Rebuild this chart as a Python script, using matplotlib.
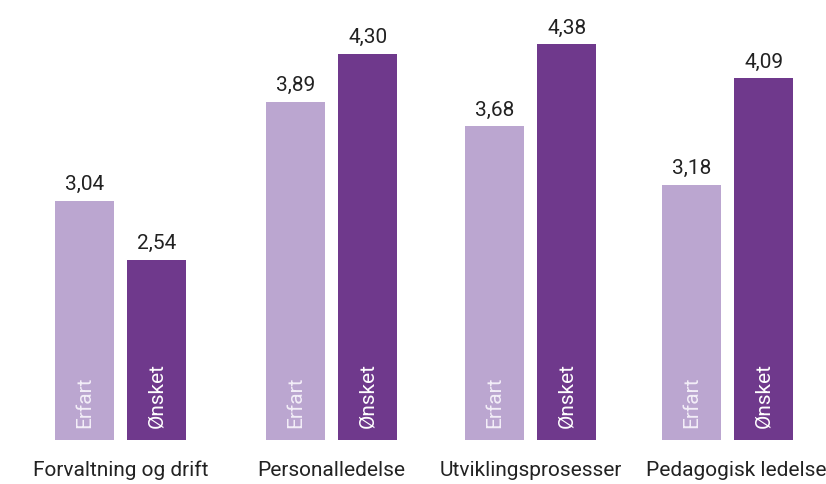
import numpy as np
import matplotlib.pyplot as plt
import matplotlib.transforms as mtransforms

categories = ['Forvaltning og drift', 'Personalledelse', 'Utviklingsprosesser', 'Pedagogisk ledelse']
erfart = [3.04, 3.89, 3.68, 3.18]
onsket = [2.54, 4.30, 4.38, 4.09]
series_names = ['Erfart', 'Ønsket']

light = '#bba6d0'
dark = '#6f398c'
text_col = '#222222'

plt.rcParams['font.family'] = ['Roboto', 'DejaVu Sans']

fig = plt.figure(figsize=(8.26, 4.84), dpi=100)
ax = fig.add_axes([0, 44 / 484, 1, 440 / 484])

# group centres are slightly uneven in the original layout
x = np.array([0.0, 1.045, 2.03, 3.005])
w = 0.292
off = 0.178
base = 1.0

b1 = ax.bar(x - off, np.array(erfart) - base, w, bottom=base, color=light)
b2 = ax.bar(x + off, np.array(onsket) - base, w, bottom=base, color=dark)

for bars, vals, name, tc in [(b1, erfart, series_names[0], '#f3eef8'), (b2, onsket, series_names[1], 'white')]:
    for b, v in zip(bars, vals):
        cx = b.get_x() + b.get_width() / 2
        ax.annotate(f'{v:.2f}'.replace('.', ','), (cx, v), xytext=(0, 5),
                    textcoords='offset points', ha='center', va='bottom',
                    fontsize=15, color=text_col)
        ax.annotate(name, (cx, base), xytext=(0, 9), textcoords='offset points',
                    rotation=90, ha='center', va='bottom', fontsize=15, color=tc)

ax.set_xlim(-0.596, 3.49)
ax.set_ylim(base, 4.76)
ax.set_xticks(x, categories, fontsize=15, color=text_col)
ax.tick_params(axis='x', length=0, pad=15)
# last label sits a bit to the right, just touching the edge as in the original
last = ax.get_xticklabels()[-1]
last.set_transform(last.get_transform() + mtransforms.ScaledTranslation(8 / 100, 0, fig.dpi_scale_trans))
ax.set_yticks([])
for s in ax.spines.values():
    s.set_visible(False)

fig.savefig('out.png', dpi=100)
